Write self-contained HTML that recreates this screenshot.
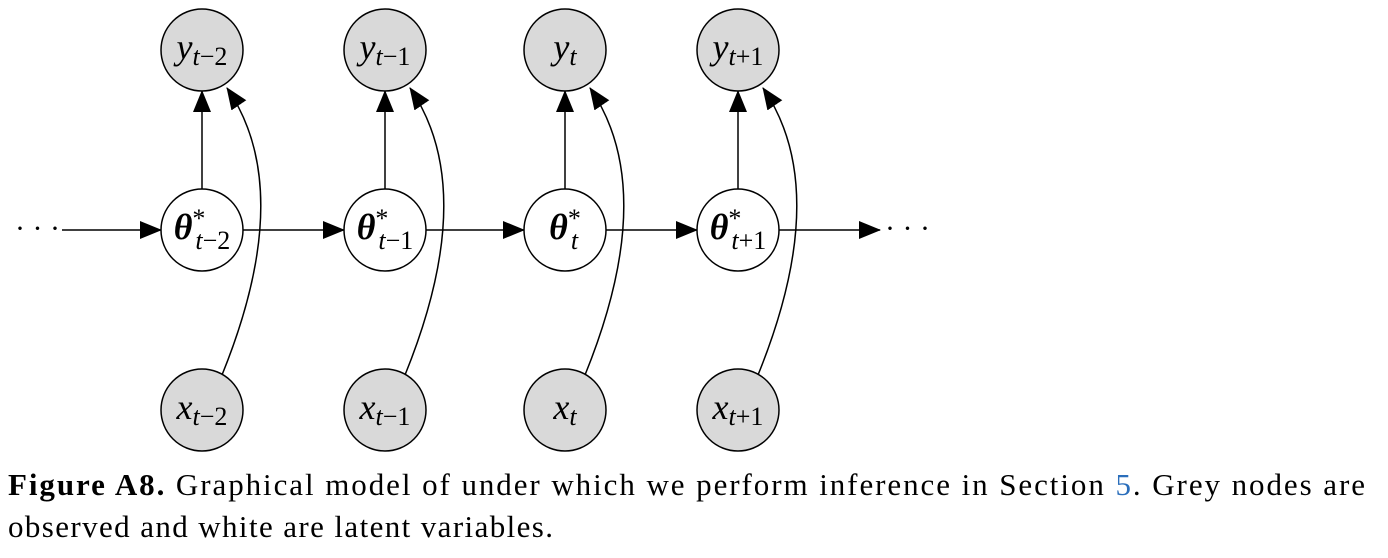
<!DOCTYPE html>
<html><head><meta charset="utf-8"><style>
html,body{margin:0;padding:0;background:#fff;}
svg{display:block;}
.m{font-family:"Liberation Serif",serif;font-style:italic;}
</style></head><body>
<svg width="1388" height="558" viewBox="0 0 1388 558">
<defs><marker id="ah2" markerWidth="22" markerHeight="18" refX="21" refY="9" orient="auto" markerUnits="userSpaceOnUse"><path d="M0,0 L22,9 L0,18 z" fill="#000"/></marker></defs>
<g id="g" stroke="#000" stroke-width="1.5" fill="none"></g>
<text x="15" y="238" font-family="Liberation Serif,serif" font-size="30">· · ·</text>
<text x="885" y="238" font-family="Liberation Serif,serif" font-size="30">· · ·</text>
<text x="8" y="495" font-family="Liberation Serif,serif" font-size="31" textLength="1357" lengthAdjust="spacing"><tspan font-weight="bold">Figure A8.</tspan> Graphical model of under which we perform inference in Section <tspan fill="#2a6ebb">5</tspan>. Grey nodes are</text>
<text x="8" y="537" font-family="Liberation Serif,serif" font-size="31" textLength="545" lengthAdjust="spacing">observed and white are latent variables.</text>
</svg>
<script>
const cols=[202,385,565,738];
const subs=["t−2","t−1","t","t+1"];
const yY=50,yT=230,yX=410,R=41;
const g=document.getElementById('g');
const svg=document.querySelector('svg');
const NS="http://www.w3.org/2000/svg";
function line(x1,y1,x2,y2,name){const l=document.createElementNS(NS,'path');l.setAttribute('d',`M${x1},${y1} L${x2},${y2}`);l.setAttribute('marker-end','url(#ah2)');


g.appendChild(l);}
function subHTML(sub){return sub.replace(/t/,'<tspan font-style="italic">t</tspan>');}
function node(cx,cy,fill,name,base,sub,bold){const c=document.createElementNS(NS,'circle');c.setAttribute('cx',cx);c.setAttribute('cy',cy);c.setAttribute('r',R);c.setAttribute('fill',fill);c.setAttribute('stroke','#000');c.setAttribute('stroke-width','1.5');


svg.appendChild(c);
const t=document.createElementNS(NS,'text');t.setAttribute('class','m');t.setAttribute('font-size','36');t.setAttribute('text-anchor','middle');t.setAttribute('x',cx);t.setAttribute('y',cy+9);
const s=`<tspan font-style="normal">${subHTML(sub)}</tspan>`;
t.innerHTML=bold?`<tspan font-weight="bold">θ</tspan><tspan font-size="26" dy="-12" font-style="normal">*</tspan><tspan font-size="26" dx="-10" dy="22" font-style="normal">${subHTML(sub)}</tspan>`:`${base}<tspan font-size="26" dy="6" font-style="normal">${subHTML(sub)}</tspan>`;


svg.appendChild(t);}
line(62,yT,cols[0]-R,yT,'arrow-in');
cols.forEach((x,i)=>{
 line(x,yT-R,x,yY+R,'arrow-theta-y-'+i);
 if(i<cols.length-1) line(x+R,yT,cols[i+1]-R,yT,'arrow-theta-theta-'+i);
 const p=document.createElementNS(NS,'path');
 p.setAttribute('d',`M${x+20},${yX-35} Q${x+95},${yT-40} ${x+25},${yY+38}`);
 p.setAttribute('marker-end','url(#ah2)');
 
 
 g.appendChild(p);
});
line(cols[3]+R,yT,880,yT,'arrow-out');
cols.forEach((x,i)=>{
 node(x,yY,'#d9d9d9','y-node-'+i,'y',subs[i]);
 node(x,yT,'#fff','theta-node-'+i,'θ',subs[i],true);
 node(x,yX,'#d9d9d9','x-node-'+i,'x',subs[i]);
});
</script>
</body></html>
